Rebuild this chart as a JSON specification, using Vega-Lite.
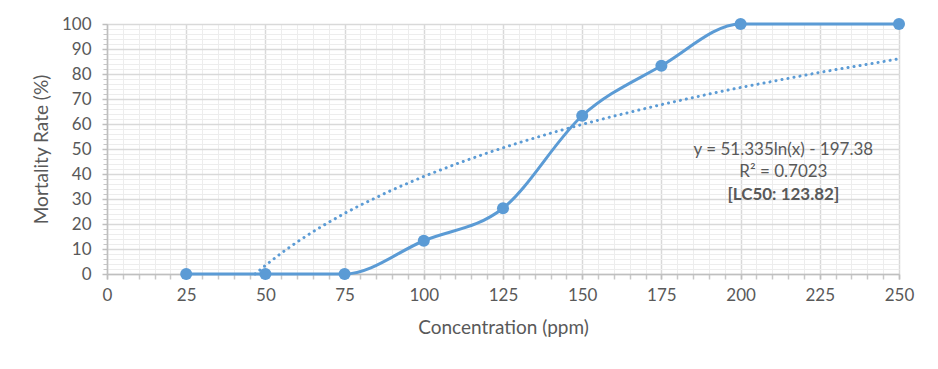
{
  "$schema": "https://vega.github.io/schema/vega-lite/v6.json",
  "width": 792,
  "height": 250,
  "autosize": "none",
  "padding": {"left": 107, "top": 24, "right": 39, "bottom": 95},
  "background": "white",
  "config": {"view": {"stroke": null}, "font": "Lato"},
  "datasets": {
    "observed": [
      {"conc": 25, "rate": 0},
      {"conc": 50, "rate": 0},
      {"conc": 75, "rate": 0},
      {"conc": 100, "rate": 13.3},
      {"conc": 125, "rate": 26.3},
      {"conc": 150, "rate": 63.3},
      {"conc": 175, "rate": 83.3},
      {"conc": 200, "rate": 100},
      {"conc": 250, "rate": 100}
    ],
    "trend": [
      {"conc": 46.76, "rate": 0},
      {"conc": 50, "rate": 3.44},
      {"conc": 55, "rate": 8.33},
      {"conc": 60, "rate": 12.80},
      {"conc": 65, "rate": 16.91},
      {"conc": 70, "rate": 20.72},
      {"conc": 75, "rate": 24.26},
      {"conc": 80, "rate": 27.57},
      {"conc": 90, "rate": 33.62},
      {"conc": 100, "rate": 39.03},
      {"conc": 110, "rate": 43.92},
      {"conc": 120, "rate": 48.39},
      {"conc": 130, "rate": 52.50},
      {"conc": 140, "rate": 56.30},
      {"conc": 150, "rate": 59.84},
      {"conc": 160, "rate": 63.16},
      {"conc": 175, "rate": 67.76},
      {"conc": 190, "rate": 71.98},
      {"conc": 200, "rate": 74.61},
      {"conc": 225, "rate": 80.66},
      {"conc": 250, "rate": 86.07}
    ],
    "notes": [
      {"conc": 213.5, "rate": 49.6, "label": "y = 51.335ln(x) - 197.38", "bold": false},
      {"conc": 213.5, "rate": 40.8, "label": "R² = 0.7023", "bold": false},
      {"conc": 213.5, "rate": 31.6, "label": "[LC50: 123.82]", "bold": true}
    ]
  },
  "resolve": {"axis": {"x": "independent", "y": "independent"}},
  "layer": [
    {
      "data": {"name": "observed"},
      "mark": {"type": "point", "opacity": 0},
      "encoding": {
        "x": {
          "field": "conc", "type": "quantitative",
          "scale": {"domain": [0, 250], "nice": false, "zero": false},
          "axis": {
            "orient": "bottom",
            "values": [0,5,10,15,20,25,30,35,40,45,50,55,60,65,70,75,80,85,90,95,100,105,110,115,120,125,130,135,140,145,150,155,160,165,170,175,180,185,190,195,200,205,210,215,220,225,230,235,240,245,250],
            "grid": true, "gridColor": "#ededed", "gridWidth": 1,
            "labels": false, "title": null, "domain": false,
            "ticks": true, "tickSize": 5, "tickColor": "#c8c8c8", "tickWidth": 1.5
          }
        },
        "y": {
          "field": "rate", "type": "quantitative",
          "scale": {"domain": [0, 100], "nice": false},
          "axis": {
            "orient": "left",
            "values": [0,2,4,6,8,10,12,14,16,18,20,22,24,26,28,30,32,34,36,38,40,42,44,46,48,50,52,54,56,58,60,62,64,66,68,70,72,74,76,78,80,82,84,86,88,90,92,94,96,98,100],
            "grid": true, "gridColor": "#ededed", "gridWidth": 1,
            "labels": false, "title": null, "domain": false,
            "ticks": true, "tickSize": 4, "tickColor": "#c8c8c8", "tickWidth": 1
          }
        }
      }
    },
    {
      "data": {"name": "observed"},
      "mark": {"type": "point", "opacity": 0},
      "encoding": {
        "x": {
          "field": "conc", "type": "quantitative",
          "scale": {"domain": [0, 250], "nice": false, "zero": false},
          "axis": {
            "orient": "bottom",
            "values": [0,25,50,75,100,125,150,175,200,225,250],
            "grid": true, "gridColor": "#d9d9d9", "gridWidth": 1.5,
            "domain": true, "domainColor": "#bfbfbf", "domainWidth": 1.5,
            "ticks": true, "tickSize": 5, "tickColor": "#bfbfbf", "tickWidth": 1.5,
            "labelFontSize": 17, "labelColor": "#595959", "labelPadding": 8,
            "labelFont": "Lato", "labelFlush": false, "labelOverlap": false,
            "title": "Concentration (ppm)", "titleFontSize": 19, "titleFontWeight": "normal",
            "titleColor": "#595959", "titlePadding": 15, "titleFont": "Lato"
          }
        },
        "y": {
          "field": "rate", "type": "quantitative",
          "scale": {"domain": [0, 100], "nice": false},
          "axis": {
            "orient": "left",
            "values": [0,10,20,30,40,50,60,70,80,90,100],
            "grid": true, "gridColor": "#d9d9d9", "gridWidth": 1.5,
            "domain": true, "domainColor": "#bfbfbf", "domainWidth": 1.5,
            "ticks": true, "tickSize": 5, "tickColor": "#bfbfbf", "tickWidth": 1.5,
            "labelFontSize": 17, "labelColor": "#595959", "labelPadding": 11,
            "labelFont": "Lato", "labelFlush": false, "labelOverlap": false,
            "title": "Mortality Rate (%)", "titleFontSize": 19, "titleFontWeight": "normal",
            "titleColor": "#595959", "titlePadding": 10, "titleFont": "Lato"
          }
        }
      }
    },
    {
      "data": {"name": "trend"},
      "mark": {"type": "line", "color": "#5B9BD5", "strokeWidth": 3, "strokeDash": [0.1, 6], "strokeCap": "round"},
      "encoding": {
        "x": {"field": "conc", "type": "quantitative", "axis": null},
        "y": {"field": "rate", "type": "quantitative", "axis": null}
      }
    },
    {
      "data": {"name": "observed"},
      "mark": {"type": "line", "color": "#5B9BD5", "strokeWidth": 3, "interpolate": "monotone"},
      "encoding": {
        "x": {"field": "conc", "type": "quantitative", "axis": null},
        "y": {"field": "rate", "type": "quantitative", "axis": null}
      }
    },
    {
      "data": {"name": "observed"},
      "mark": {"type": "circle", "color": "#5B9BD5", "size": 145, "opacity": 1},
      "encoding": {
        "x": {"field": "conc", "type": "quantitative", "axis": null},
        "y": {"field": "rate", "type": "quantitative", "axis": null}
      }
    },
    {
      "data": {"name": "notes"},
      "transform": [{"filter": "!datum.bold"}],
      "mark": {"type": "text", "fontSize": 17, "color": "#595959", "font": "Lato", "align": "center", "baseline": "middle"},
      "encoding": {
        "x": {"field": "conc", "type": "quantitative", "axis": null},
        "y": {"field": "rate", "type": "quantitative", "axis": null},
        "text": {"field": "label"}
      }
    },
    {
      "data": {"name": "notes"},
      "transform": [{"filter": "datum.bold"}],
      "mark": {"type": "text", "fontSize": 17, "fontWeight": "bold", "color": "#595959", "font": "Lato", "align": "center", "baseline": "middle"},
      "encoding": {
        "x": {"field": "conc", "type": "quantitative", "axis": null},
        "y": {"field": "rate", "type": "quantitative", "axis": null},
        "text": {"field": "label"}
      }
    }
  ]
}
